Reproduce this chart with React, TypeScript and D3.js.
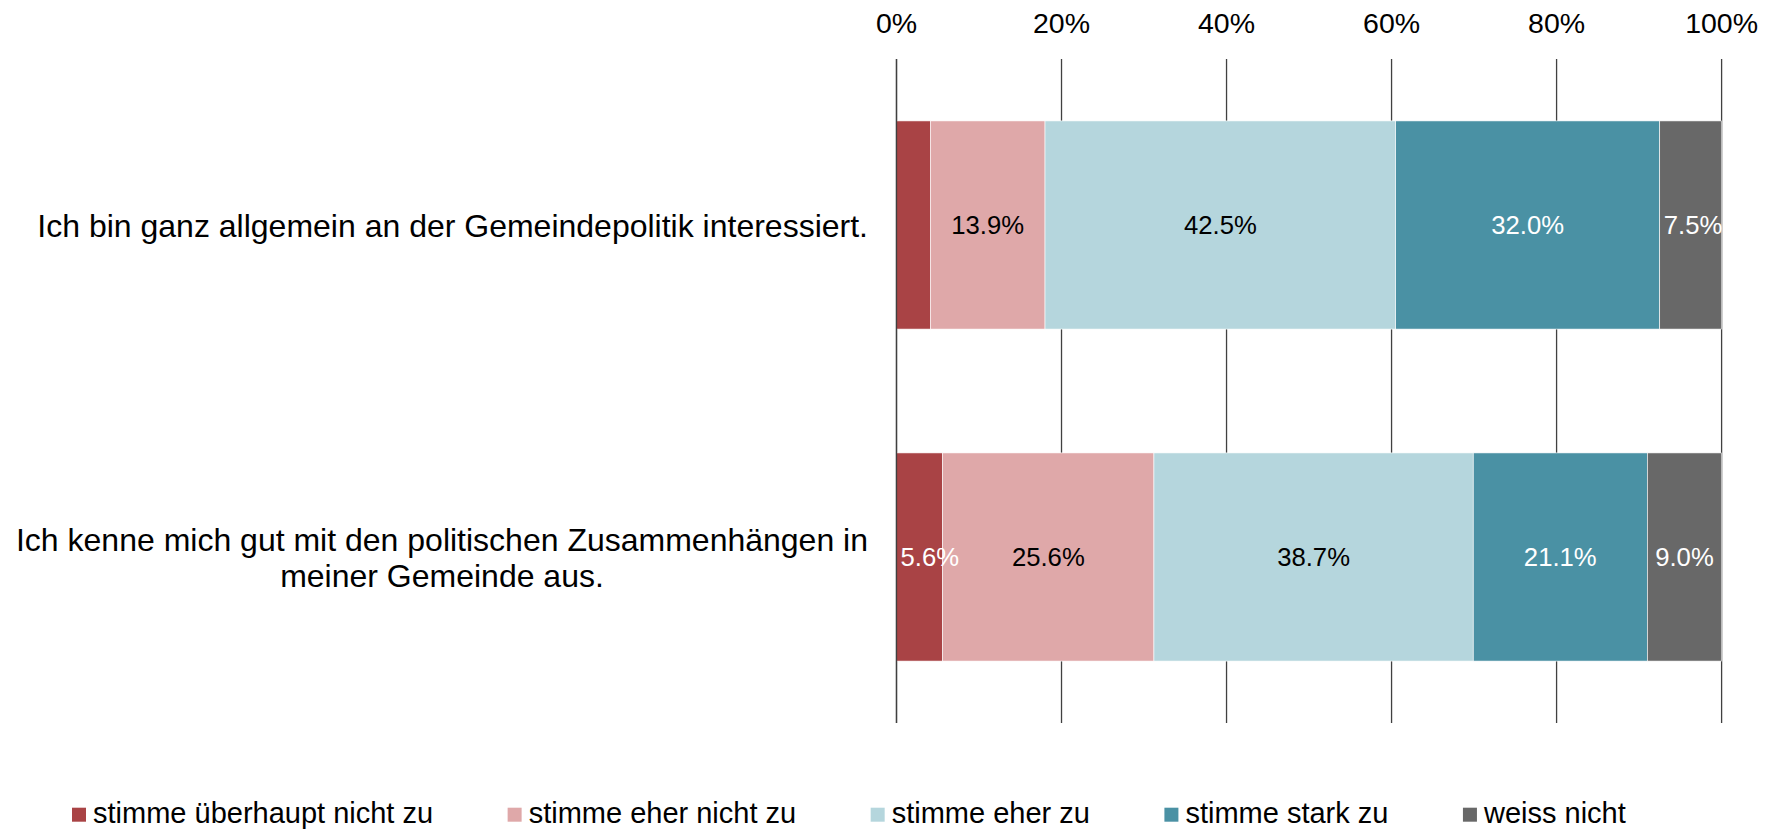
import React, { useEffect, useRef } from "react";
import * as d3 from "d3";

const categoryLines: string[][] = [
  ["Ich bin ganz allgemein an der Gemeindepolitik interessiert."],
  ["Ich kenne mich gut mit den politischen Zusammenhängen in", "meiner Gemeinde aus."],
];
const categories = categoryLines.map((l) => l.join(" "));

const seriesNames = [
  "stimme überhaupt nicht zu",
  "stimme eher nicht zu",
  "stimme eher zu",
  "stimme stark zu",
  "weiss nicht",
];
const ueberhauptNicht = [4.1, 5.6];
const eherNicht = [13.9, 25.6];
const eherZu = [42.5, 38.7];
const starkZu = [32.0, 21.1];
const weissNicht = [7.5, 9.0];
const seriesValues = [ueberhauptNicht, eherNicht, eherZu, starkZu, weissNicht];
const tickValues = [0, 20, 40, 60, 80, 100];
// labels not shown in the reference: [seriesIndex, categoryIndex]
const hiddenLabels: [number, number][] = [[0, 0]];

const colors = ["#A94345", "#DFA8A9", "#B5D6DD", "#4A91A4", "#686868"];
const labelColors = ["#FFFFFF", "#000000", "#000000", "#FFFFFF", "#FFFFFF"];

const W = 1768;
const H = 829;
const FONT = "'Liberation Sans', Arial, sans-serif";

export default function App() {
  const ref = useRef<SVGSVGElement | null>(null);

  useEffect(() => {
    const svg = d3.select(ref.current);
    svg.selectAll("*").remove();

    const x = d3.scaleLinear().domain([0, 100]).range([896.5, 1721.6]);
    const y = d3
      .scaleBand<string>()
      .domain(categories)
      .range([59, 723])
      .paddingInner(0.373)
      .paddingOuter(0.1865);

    const rows = categories.map((c, i) => {
      const r: any = { cat: c };
      seriesNames.forEach((s, j) => (r[s] = seriesValues[j][i]));
      return r;
    });
    const stacked = d3.stack<any>().keys(seriesNames)(rows);

    // gridlines
    svg
      .append("g")
      .selectAll("line")
      .data(tickValues)
      .join("line")
      .attr("x1", (d) => x(d))
      .attr("x2", (d) => x(d))
      .attr("y1", 59)
      .attr("y2", 723)
      .attr("stroke", "#404040")
      .attr("stroke-width", 1.3);

    // tick labels
    svg
      .append("g")
      .selectAll("text")
      .data(tickValues)
      .join("text")
      .attr("x", (d) => x(d))
      .attr("y", 33.3)
      .attr("text-anchor", "middle")
      .attr("font-family", FONT)
      .attr("font-size", 28.5)
      .attr("fill", "#000")
      .text((d) => `${d}%`);

    // bars
    const gBars = svg.append("g");
    stacked.forEach((layer, si) => {
      gBars
        .append("g")
        .selectAll("rect")
        .data(layer)
        .join("rect")
        .attr("x", (d) => x(d[0]))
        .attr("width", (d) => x(d[1]) - x(d[0]))
        .attr("y", (d) => y(d.data.cat)!)
        .attr("height", y.bandwidth())
        .attr("fill", colors[si])
        .attr("stroke", "#ffffff")
        .attr("stroke-width", 0.6);
    });

    // axis line at 0 over bars
    svg
      .append("line")
      .attr("x1", x(0))
      .attr("x2", x(0))
      .attr("y1", 59)
      .attr("y2", 723)
      .attr("stroke", "#404040")
      .attr("stroke-width", 1.3);

    // data labels
    const gLab = svg.append("g");
    stacked.forEach((layer, si) => {
      layer.forEach((d, ci) => {
        if (hiddenLabels.some(([a, b]) => a === si && b === ci)) return;
        const v = seriesValues[si][ci];
        const cy = y(d.data.cat)! + y.bandwidth() / 2;
        const t = gLab
          .append("text")
          .attr("y", cy + 9.3)
          .attr("text-anchor", "middle")
          .attr("font-family", FONT)
          .attr("font-size", 25.7)
          .attr("fill", labelColors[si])
          .text(`${v.toFixed(1)}%`);
        const tw = (t.node() as SVGTextElement).getComputedTextLength();
        const x0 = x(d[0]);
        const cx = Math.max((x0 + x(d[1])) / 2, x0 + tw / 2 + 4);
        t.attr("x", cx);
      });
    });

    // category labels
    const rightEdge = 868;
    const lineH = 36;
    categoryLines.forEach((lines, ci) => {
      const cy = y(categories[ci])! + y.bandwidth() / 2;
      const g = svg.append("g");
      const texts = lines.map((ln, li) =>
        g
          .append("text")
          .attr("y", cy + (li - (lines.length - 1) / 2) * lineH + 11.5)
          .attr("text-anchor", "middle")
          .attr("font-family", FONT)
          .attr("font-size", 32)
          .attr("fill", "#000")
          .text(ln)
      );
      const maxW = d3.max(texts, (t) => (t.node() as SVGTextElement).getComputedTextLength()) || 0;
      texts.forEach((t) => t.attr("x", rightEdge - maxW / 2));
    });

    // legend
    const gLeg = svg.append("g");
    let lx = 72;
    seriesNames.forEach((s, i) => {
      gLeg
        .append("rect")
        .attr("x", lx)
        .attr("y", 807.7)
        .attr("width", 14)
        .attr("height", 14)
        .attr("fill", colors[i]);
      const t = gLeg
        .append("text")
        .attr("x", lx + 21)
        .attr("y", 822.5)
        .attr("font-family", FONT)
        .attr("font-size", 29)
        .attr("fill", "#000")
        .text(s);
      const tw = (t.node() as SVGTextElement).getComputedTextLength();
      lx += 21 + tw + 74.5;
    });
  }, []);

  return (
    <svg
      ref={ref}
      width={W}
      height={H}
      style={{ position: "absolute", left: 0, top: 0, background: "#fff" }}
    />
  );
}
